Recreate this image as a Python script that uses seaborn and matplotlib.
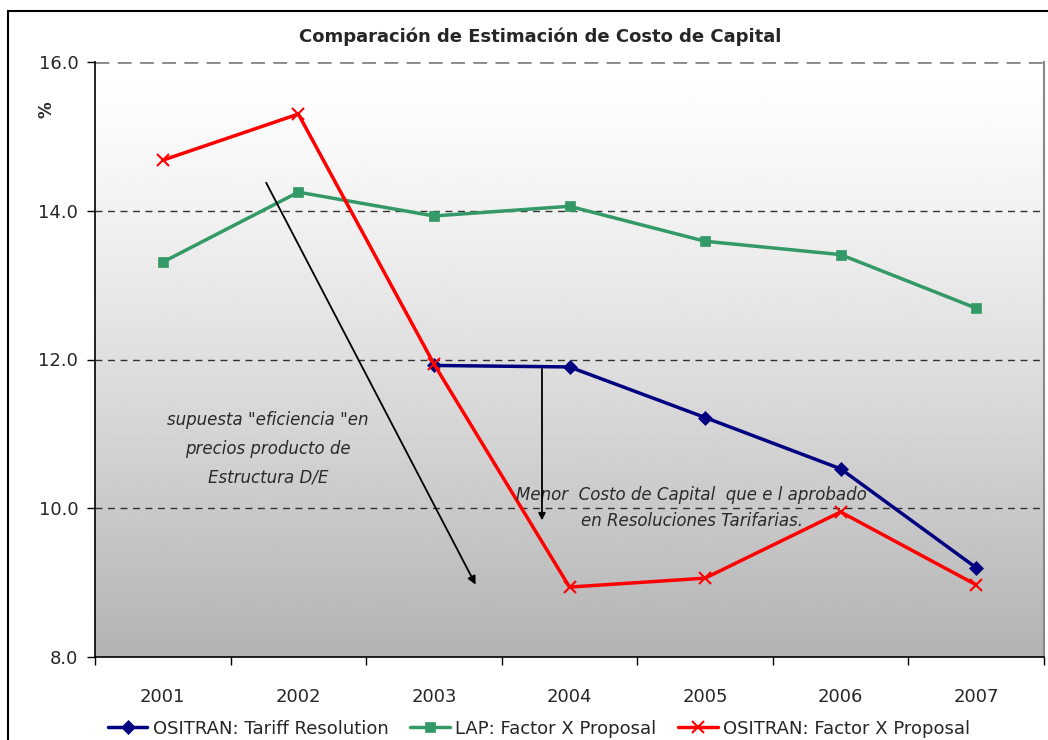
import matplotlib
matplotlib.use('Agg')
import matplotlib.pyplot as plt
import numpy as np
import pandas as pd
import seaborn as sns
from matplotlib.patches import Rectangle

years = ['2001', '2002', '2003', '2004', '2005', '2006', '2007']
ositran_tariff = [np.nan, np.nan, 11.92, 11.90, 11.22, 10.53, 9.20]
lap_factor_x = [13.31, 14.25, 13.93, 14.06, 13.59, 13.41, 12.69]
ositran_factor_x = [14.68, 15.30, 11.94, 8.94, 9.06, 9.95, 8.97]

series_names = ['OSITRAN: Tariff Resolution', 'LAP: Factor X Proposal', 'OSITRAN: Factor X Proposal']

df = pd.DataFrame({
    'year': years * 3,
    'pos': list(range(len(years))) * 3,
    'value': ositran_tariff + lap_factor_x + ositran_factor_x,
    'serie': [s for s in series_names for _ in years],
})

sns.set_style('white')
plt.rcParams['font.family'] = ['DejaVu Sans']

fig = plt.figure(figsize=(10.48, 7.40), dpi=100)
ax = fig.add_axes([95 / 1048, 1 - 657 / 740, (1044 - 95) / 1048, (657 - 62) / 740])

# gradient background, white at top -> grey at bottom
t = np.linspace(0, 1, 256)
grad = (1.0 - 0.30 * t ** 1.25).reshape(-1, 1)
ax.imshow(grad, cmap='gray', vmin=0, vmax=1, aspect='auto',
          extent=(0, 1, 0, 1), transform=ax.transAxes, zorder=0)

palette = {series_names[0]: '#000080', series_names[1]: '#339966', series_names[2]: '#FF0000'}
markers = {series_names[0]: 'D', series_names[1]: 's', series_names[2]: 'x'}
sizes = {series_names[0]: 7, series_names[1]: 7, series_names[2]: 8}

for name in series_names:
    sub = df[df['serie'] == name].dropna()
    sns.lineplot(data=sub, x='pos', y='value', ax=ax, color=palette[name],
                 marker=markers[name], markersize=sizes[name], linewidth=2.5,
                 markeredgecolor=palette[name], markeredgewidth=1.5 if name == series_names[2] else 0.5,
                 label=name, zorder=3, sort=False)

ax.set_xlim(-0.5, len(years) - 0.5)
ax.set_ylim(8, 16)
ax.set_yticks([8, 10, 12, 14, 16])
ax.set_yticklabels([f'{v:.1f}' for v in [8, 10, 12, 14, 16]], fontsize=13)
for v in [10, 12, 14]:
    ax.axhline(v, color='#333333', linestyle=(0, (5, 4)), linewidth=1, zorder=1)
ax.axhline(16, color='#888888', linestyle=(0, (5, 3)), linewidth=2, zorder=1)

ax.set_xticks(np.arange(-0.5, len(years), 1.0))
ax.set_xticklabels([])
ax.set_xticks(range(len(years)), minor=True)
ax.set_xticklabels(years, minor=True, fontsize=13)
ax.tick_params(axis='x', which='major', direction='out', length=6, width=1, color='black', bottom=True)
ax.tick_params(axis='x', which='minor', length=0, pad=22)
ax.tick_params(axis='y', direction='out', length=6, width=1, color='black', left=True, pad=6)
ax.set_xlabel('')
ax.set_ylabel('')

for side in ['left', 'bottom']:
    ax.spines[side].set_color('black')
    ax.spines[side].set_linewidth(1.2)
ax.spines['right'].set_color('#888888')
ax.spines['right'].set_linewidth(1.5)
ax.spines['top'].set_visible(False)

fig.text(47 / 1048, 1 - 110 / 740, '%', rotation=90, fontsize=12, fontweight='bold',
         ha='center', va='center')
fig.text(540 / 1048, 1 - 37 / 740, 'Comparación de Estimación de Costo de Capital',
         fontsize=13, fontweight='bold', ha='center', va='center')

# annotations
ax.annotate('', xy=(2.317, 8.94), xytext=(0.753, 14.41),
            arrowprops=dict(arrowstyle='-|>', color='black', lw=1.3, mutation_scale=12), zorder=4)
ax.annotate('', xy=(2.797, 9.80), xytext=(2.797, 11.91),
            arrowprops=dict(arrowstyle='-|>', color='black', lw=1.3, mutation_scale=10), zorder=4)
ax.text(0.776, 10.8, 'supuesta "eficiencia "en\nprecios producto de\nEstructura D/E',
        fontsize=12, style='italic', ha='center', va='center', linespacing=1.75, color='#2a2a2a')
ax.text(3.90, 10.0, 'Menor  Costo de Capital  que e l aprobado\nen Resoluciones Tarifarias.',
        fontsize=12, style='italic', ha='center', va='center', linespacing=1.55, color='#2a2a2a')

leg = ax.legend(loc='upper center', bbox_to_anchor=(0.468, -0.078), ncol=3, frameon=False,
                fontsize=13, handlelength=2.2, columnspacing=1.2, handletextpad=0.3)

# outer border of the chart area
fig.patches.append(Rectangle((8 / 1048, -0.05), 1.1, 1 - 11 / 740 + 0.05, transform=fig.transFigure,
                             fill=False, edgecolor='black', linewidth=1.5))

fig.savefig('out.png', dpi=100)
